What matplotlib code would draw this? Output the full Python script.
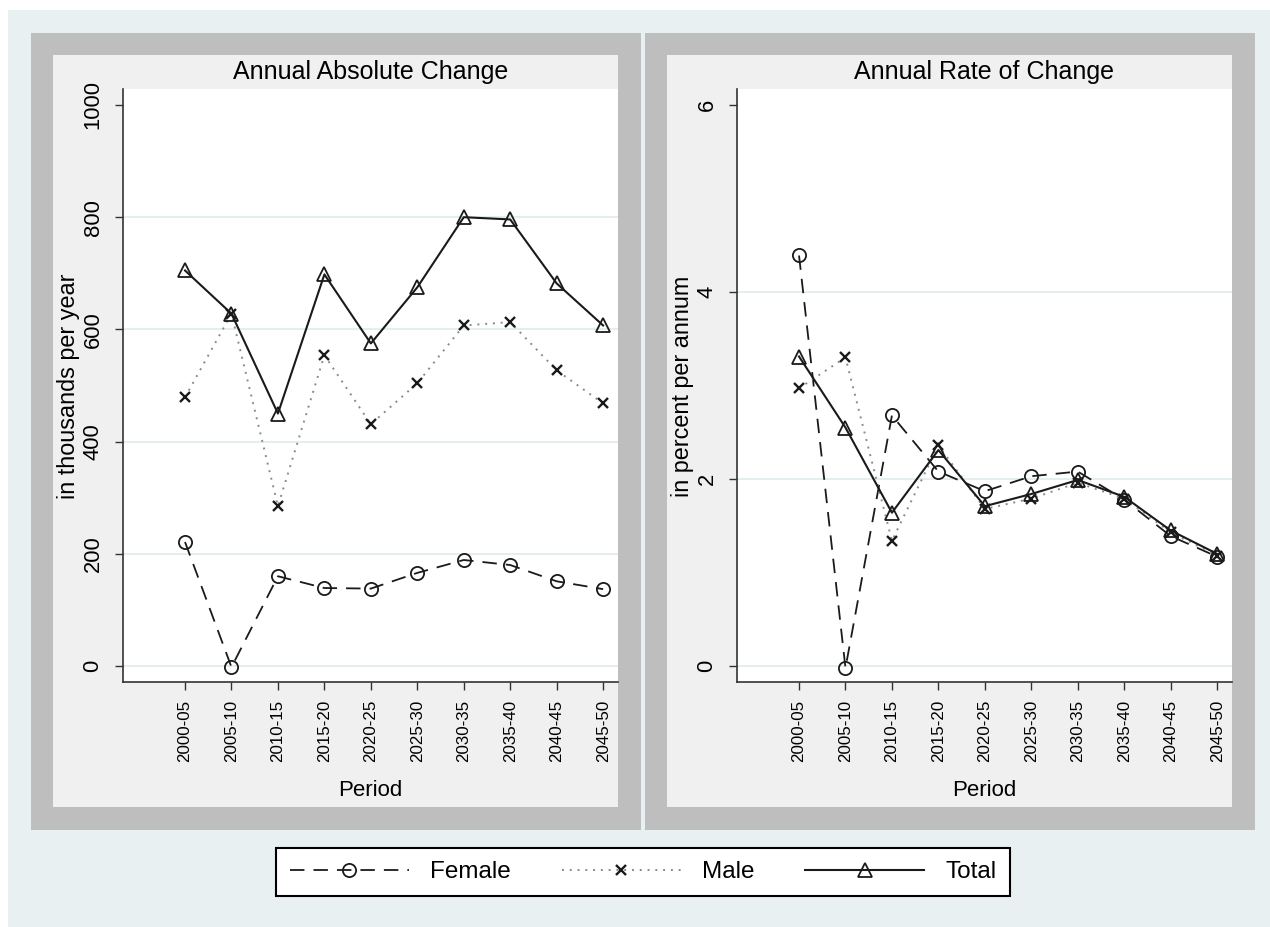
import numpy as np
import matplotlib
matplotlib.use('Agg')
import matplotlib.pyplot as plt
from matplotlib.patches import Rectangle

plt.rcParams.update({
    'font.family': ['Liberation Sans', 'DejaVu Sans'],
    'axes.linewidth': 1.0,
})

periods = ['2000-05', '2005-10', '2010-15', '2015-20', '2020-25',
           '2025-30', '2030-35', '2035-40', '2040-45', '2045-50']

# annual absolute change, thousands per year
abs_female = [221, -2, 160, 139, 138, 166, 189, 180, 151, 137]
abs_male = [479, 628, 285, 554, 431, 504, 607, 613, 527, 468]
abs_total = [705, 628, 450, 698, 575, 675, 800, 796, 682, 607]

# annual rate of change, percent per annum
rate_female = [4.39, -0.02, 2.68, 2.08, 1.87, 2.03, 2.08, 1.78, 1.39, 1.17]
rate_male = [2.97, 3.30, 1.34, 2.36, 1.68, 1.79, 1.96, 1.79, 1.43, 1.18]
rate_total = [3.31, 2.55, 1.64, 2.31, 1.71, 1.84, 1.99, 1.81, 1.45, 1.20]

W, H = 1270, 927
fig = plt.figure(figsize=(W / 100, H / 100), dpi=100, facecolor='white')


def rect(x0, y0, x1, y1, color, z=-10):
    # pixel box (top-left origin) -> figure fraction
    fig.patches.append(Rectangle((x0 / W, 1 - y1 / H), (x1 - x0) / W, (y1 - y0) / H,
                                 transform=fig.transFigure, facecolor=color,
                                 edgecolor='none', zorder=z))


rect(8, 10, W, H, '#e8f0f2', -12)
BLACK = '#1a1a1a'
panels = [
    (0, 'Annual Absolute Change', 'in thousands per year', abs_female, abs_male, abs_total,
     [0, 200, 400, 600, 800, 1000], (-28.5, 1028.5)),
    (614, 'Annual Rate of Change', 'in percent per annum', rate_female, rate_male, rate_total,
     [0, 2, 4, 6], (-0.17, 6.17)),
]
x = np.arange(len(periods))
for dx, title, ylab, fem, mal, tot, yt, ylim in panels:
    rect(31 + dx, 33, 641 + dx, 830, '#bebebe', -11)
    rect(53 + dx, 55, 618 + dx, 807, '#f0f0f0', -10)
    ax = fig.add_axes([(123 + dx) / W, 1 - 682 / H, 495 / W, 593 / H])
    ax.set_zorder(1)
    ax.set_facecolor('white')
    ax.plot(x, fem, color=BLACK, lw=1.3, dashes=(8, 5), marker='o', ms=9.5, mfc='none',
            mec=BLACK, mew=1.3, label='Female', zorder=3)
    ax.plot(x, mal, color='#8a8a8a', lw=1.4, linestyle=(0, (1, 3)), marker='x', ms=6.5,
            mec=BLACK, mew=1.7, label='Male', zorder=3)
    ax.plot(x, tot, color=BLACK, lw=1.5, marker='^', ms=10.5, mfc='none', mec=BLACK,
            mew=1.3, label='Total', zorder=3)
    ax.set_xlim(-1.335, 9.32)
    ax.set_ylim(*ylim)
    ax.set_xticks(x, periods, rotation=90, fontsize=12.2)
    ax.set_yticks(yt, [str(v) for v in yt], rotation=90, va='center', fontsize=15.8)
    for v in yt[:-1]:
        ax.axhline(v, color='#e2ecee', lw=1.3, zorder=1)
    ax.tick_params(axis='both', direction='out', length=6, width=1.0, color='#333333',
                   pad=7)
    ax.tick_params(axis='y', pad=8)
    for s in ['top', 'right']:
        ax.spines[s].set_visible(False)
    for s in ['left', 'bottom']:
        ax.spines[s].set_color('#333333')
        ax.spines[s].set_linewidth(1.2)
    fig.text((370.5 + dx) / W, 1 - 72 / H, title, ha='center', va='center', fontsize=18)
    fig.text((370.5 + dx) / W, 1 - 790 / H, 'Period', ha='center', va='center', fontsize=16)
    fig.text((68 + dx) / W, 1 - 386 / H, ylab, ha='center', va='center', rotation=90,
             fontsize=16.8)

handles, labels = ax.get_legend_handles_labels()
leg = fig.legend(handles, labels, ncol=3, loc='center',
                 bbox_to_anchor=(643 / W, 1 - 872 / H), frameon=True, fancybox=False,
                 edgecolor='black', facecolor='white', framealpha=1, fontsize=17.5,
                 handlelength=4.9, handletextpad=0.86, columnspacing=2.1, borderpad=0.55)
leg.get_frame().set_linewidth(1.5)

fig.savefig('out.png', dpi=100, facecolor=fig.get_facecolor())
